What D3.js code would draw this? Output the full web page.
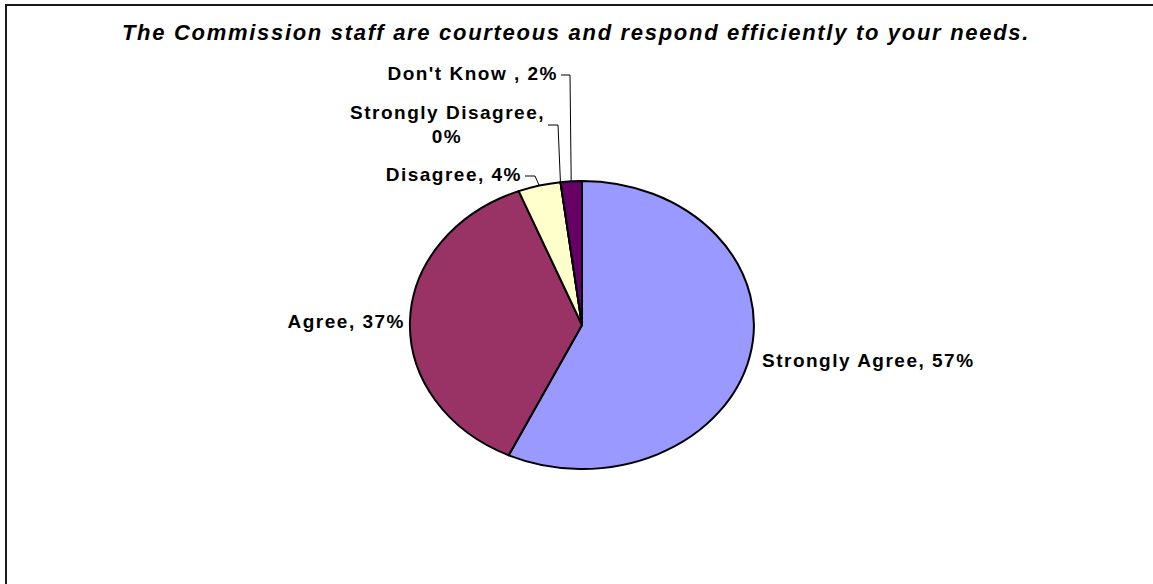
<!DOCTYPE html>
<html>
<head>
<meta charset="utf-8">
<script src="https://cdn.jsdelivr.net/npm/d3@7"></script>
<style>
  html, body { margin: 0; padding: 0; background: #fff; }
  svg { display: block; }
  text { font-family: Arial, "Liberation Sans", sans-serif; }
</style>
</head>
<body>
<svg id="chart" width="1153" height="584"></svg>
<script>
// Survey responses for a single question
const title = "The Commission staff are courteous and respond efficiently to your needs.";
const categories = ["Strongly Agree", "Agree", "Disagree", "Strongly Disagree", "Don't Know "];
const values = [57, 37, 4, 0, 2];
const colors = ["#9999FF", "#993366", "#FFFFCC", "#CCFFFF", "#660066"];

const W = 1153, H = 584;
const svg = d3.select("#chart");

// chart area frame (runs off the right and bottom edges)
svg.append("rect")
  .attr("x", 6).attr("y", 5)
  .attr("width", 1170).attr("height", 620)
  .attr("fill", "#fff")
  .attr("stroke", "#1a1a1a")
  .attr("stroke-width", 2);

svg.append("text")
  .attr("x", 576).attr("y", 40)
  .attr("text-anchor", "middle")
  .attr("font-size", 22)
  .attr("font-weight", "bold")
  .attr("font-style", "italic")
  .attr("letter-spacing", 1.7)
  .text(title);

// pie geometry: a stretched (elliptical) circle
const cx = 582, cy = 325, rx = 172, ry = 144;

const data = categories.map((c, i) => ({ category: c, value: values[i], color: colors[i] }));
const pie = d3.pie().sort(null).value(d => d.value);
const arcs = pie(data);
const arc = d3.arc().innerRadius(0).outerRadius(1);

const g = svg.append("g")
  .attr("transform", `translate(${cx},${cy}) scale(${rx},${ry})`);

g.selectAll("path")
  .data(arcs)
  .join("path")
  .attr("d", arc)
  .attr("fill", d => d.data.color)
  .attr("stroke", "#000")
  .attr("stroke-width", 2)
  .attr("stroke-linejoin", "round")
  .attr("vector-effect", "non-scaling-stroke");

// point on the pie rim at the middle of a slice
function rimPoint(a) {
  const m = (a.startAngle + a.endAngle) / 2;
  return [cx + rx * Math.sin(m), cy - ry * Math.cos(m)];
}

// data-label placement (hand-tuned like a spreadsheet chart)
const labelLayout = {
  "Strongly Agree":    { x: 762, y: 367, anchor: "start" },
  "Agree":             { x: 405, y: 328, anchor: "end" },
  "Disagree":          { x: 522, y: 181, anchor: "end", leader: [[525, 176], [535, 176]] },
  "Strongly Disagree": { x: 545, y: 119, anchor: "end", wrap: 447, leader: [[548, 125], [558, 125]] },
  "Don't Know ":       { x: 558, y: 80,  anchor: "end", leader: [[561, 75], [570, 75]] }
};

const labels = svg.append("g")
  .attr("font-size", 19)
  .attr("font-weight", "bold")
  .attr("letter-spacing", 1.5)
  .attr("fill", "#000");

arcs.forEach(a => {
  const L = labelLayout[a.data.category];
  if (L.leader) {
    const pts = L.leader.concat([rimPoint(a)]);
    svg.append("path")
      .attr("d", d3.line()(pts))
      .attr("fill", "none")
      .attr("stroke", "#000")
      .attr("stroke-width", 1);
  }
  if (L.wrap) {
    labels.append("text")
      .attr("x", L.x).attr("y", L.y)
      .attr("text-anchor", L.anchor)
      .text(`${a.data.category},`);
    labels.append("text")
      .attr("x", L.wrap).attr("y", L.y + 24)
      .attr("text-anchor", "middle")
      .text(`${a.data.value}%`);
  } else {
    labels.append("text")
      .attr("x", L.x).attr("y", L.y)
      .attr("text-anchor", L.anchor)
      .text(`${a.data.category}, ${a.data.value}%`);
  }
});
</script>
</body>
</html>
